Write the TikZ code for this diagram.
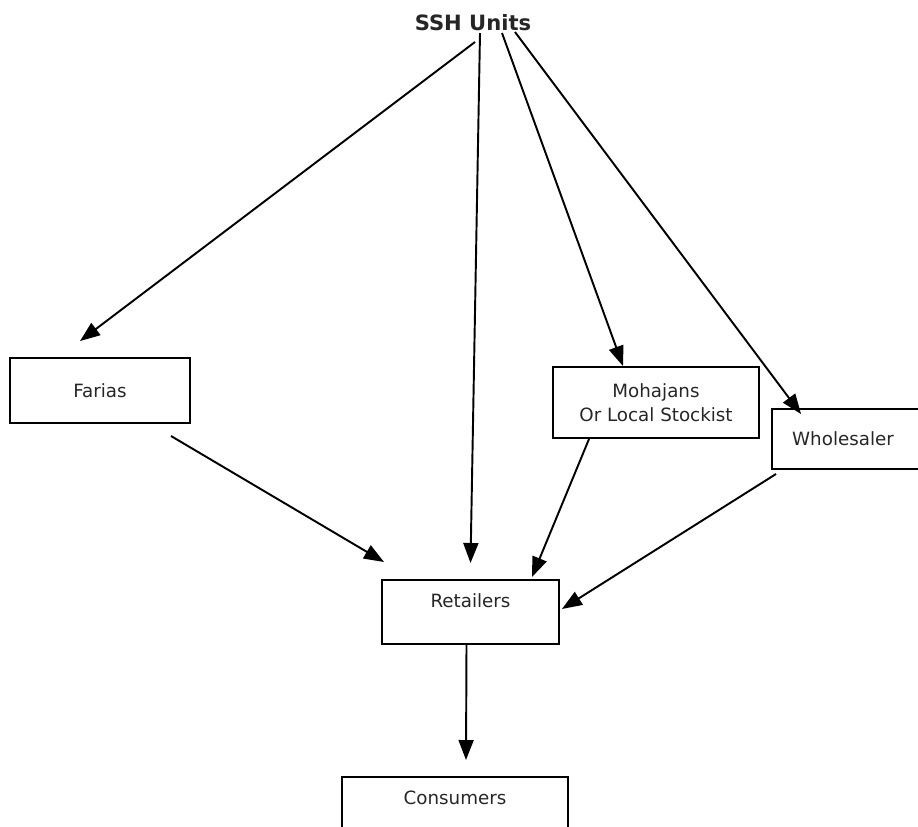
\documentclass[tikz,border=0pt]{standalone}
\usepackage{fontspec}
\setmainfont{DejaVu Sans}
\usepackage{xcolor}
\usetikzlibrary{arrows.meta}

\begin{document}
\begin{tikzpicture}[x=0.2mm, y=-0.2mm,
                    every node/.style={font=\fontsize{10.4}{13.5}\selectfont, text=black!85},
                    box/.style={draw, line width=1.1pt, align=center},
                    >={Triangle[length=4mm,width=3mm]}, line width=1.1pt]
  \useasboundingbox (0,0) rectangle (918,826);
  % top
  \node[font=\bfseries\fontsize{12}{14}\selectfont] (ssh) at (473,23) {SSH Units};
  % middle row
  \node[box, minimum width=36mm, minimum height=13mm] (farias) at (100,390.5) {Farias};
  \node[box, minimum width=41.2mm, minimum height=14.2mm] (mohajans) at (656,402.5) {Mohajans\\Or Local Stockist};
  \node[box, minimum width=32mm, minimum height=12mm] (wholesaler) at (852,439) {Wholesaler\hspace{3.6mm}};
  % lower boxes
  \node[box, anchor=north, inner sep=0pt, minimum width=35.4mm,
        text height=5.6mm, text depth=7.2mm] (retailers) at (470.5,579) {Retailers};
  \node[box, anchor=north, inner sep=0pt, minimum width=45.2mm,
        text height=5.6mm, text depth=9mm] (consumers) at (455,776) {Consumers};
  % arrows from SSH Units
  \draw[->] ([shift={(2,19)}]ssh.center) -- ([shift={(-20,-16)}]farias.north);
  \draw[->] ([shift={(7,10)}]ssh.center) -- ([shift={(0,-16)}]retailers.north);
  \draw[->] ([shift={(29,10)}]ssh.center) -- ([shift={(-33,0)}]mohajans.north);
  \draw[->] ([shift={(42,9)}]ssh.center) -- ([shift={(30,6)}]wholesaler.north west);
  % arrows into retailers
  \draw[->] ([shift={(-20,12)}]farias.south east) -- ([shift={(3,-17)}]retailers.north west);
  \draw[->] ([shift={(37,0)}]mohajans.south west) -- ([shift={(-28,-2)}]retailers.north east);
  \draw[->] ([shift={(5,4)}]wholesaler.south west) -- ([shift={(2,-3)}]retailers.east);
  \draw[->] ([shift={(-4,0)}]retailers.south) -- ([shift={(11,-16)}]consumers.north);
\end{tikzpicture}
\end{document}
